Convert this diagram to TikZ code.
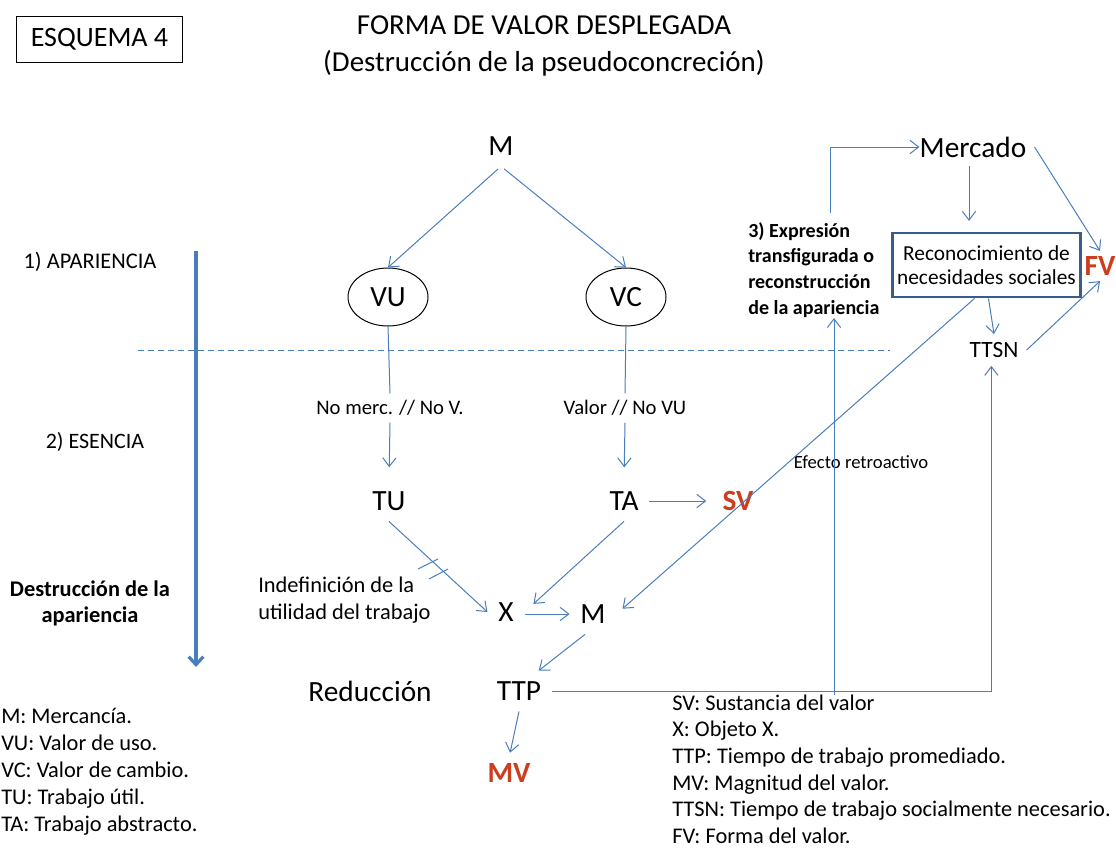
\documentclass[tikz,border=0pt]{standalone}
\usepackage{fontspec}
\setmainfont{Carlito}
\usepackage{tikz}
\usetikzlibrary{arrows.meta}
\usetikzlibrary{shapes.geometric,positioning}
\definecolor{lineblue}{RGB}{74,126,187}
\definecolor{boxblue}{RGB}{56,93,138}
\definecolor{valred}{RGB}{204,62,32}

\begin{document}
\begin{tikzpicture}[x=0.75pt,y=-0.75pt,
    big/.style={font=\fontsize{22}{26}\selectfont, inner sep=8pt},
    small/.style={font=\fontsize{15.5}{18}\selectfont, inner sep=5pt},
    note/.style={font=\fontsize{16.8}{20.3}\selectfont, inner sep=0pt, align=left, anchor=west},
    boldnote/.style={font=\fontsize{15}{19.4}\selectfont\bfseries, inner sep=0pt},
    redlbl/.style={font=\fontsize{22}{26}\selectfont\bfseries, text=valred, inner sep=4pt},
    oval/.style={ellipse, draw, line width=0.75pt, minimum width=60pt, minimum height=43.5pt,
        font=\fontsize{22}{26}\selectfont},
    conn/.style={draw=lineblue, line width=0.75pt, -{Straight Barb[length=6.5pt,width=10pt]}},
    plain/.style={draw=lineblue, line width=0.75pt},
    phase/.style={draw=lineblue, line width=2.4pt, -{Straight Barb[length=6pt,width=11pt]}}]
\useasboundingbox (0,0) rectangle (1116,850);

% title
\node (esquema) [draw, line width=0.75pt, minimum width=125pt, minimum height=34.5pt,
    font=\fontsize{21}{25}\selectfont] at (99.5,39) {ESQUEMA 4};
\node (title) [align=center, font=\fontsize{21.7}{27.5}\selectfont] at (544,46)
    {FORMA DE VALOR DESPLEGADA\\(Destrucción de la pseudoconcreción)};

% levels
\node (apariencia) [font=\fontsize{16.8}{20}\selectfont] at (90,262) {1) APARIENCIA};
\node (esencia) [font=\fontsize{16.5}{20}\selectfont] at (95,442) {2) ESENCIA};
\node (destruccion) [boldnote, align=center, font=\fontsize{16.8}{19.5}\selectfont\bfseries]
    at (90,603) {Destrucción de la\\apariencia};
\coordinate (phase-top) at (196,251);
\coordinate (phase-bot) at (196,667);
\draw[phase] (phase-top) -- (phase-bot);
\coordinate (cut-left) at (138,350);
\coordinate (cut-right) at (890,350);
\draw[plain, dash pattern=on 4.5pt off 3pt] (cut-left) -- (cut-right);

% apariencia
\node (m-top) [big] at (501,146) {M};
\node (vu) [oval] at (388,297) {VU};
\node (vc) [oval] at (626,297) {VC};
\draw[conn, shorten <=3pt] (m-top.south) -- (vu.north);
\draw[conn, shorten <=3pt] (m-top.south) -- (vc.north);

% esencia
\node (vu-lbl) [small] at (390,408) {No merc. // No V.};
\node (vc-lbl) [small] at (625,408) {Valor // No VU};
\node (tu) [big] at (389,501) {TU};
\node (ta) [big] at (624,501) {TA};
\node (sv) [redlbl] at (738,501) {SV};
\draw[plain] (vu.south) -- (vu-lbl.north);
\draw[plain] (vc.south) -- (vc-lbl.north);
\draw[conn, shorten >=10pt] (vu-lbl.south) -- (tu.north);
\draw[conn, shorten >=10pt] (vc-lbl.south) -- (ta.north);
\draw[conn, shorten >=8pt] (ta.east) -- (sv.west);

% destruccion de la apariencia
\node (x) [big] at (506,612) {X};
\node (m-bot) [big] at (593,614) {M};
\node (indef) [note] at (258,600) {Indefinición de la\\utilidad del trabajo};
\draw[conn] (tu.south) -- (x.west);
\draw[plain] (418,569) -- (438,559);
\draw[plain] (429,579) -- (448,569);
\draw[conn, shorten >=9pt] (ta.south) -- (x.east);
\draw[conn] (m-bot.west -| x.east) -- (m-bot.west);

% reduccion
\node (reduccion) [big] at (370,691) {Reducción};
\node (ttp) [big] at (519,691) {TTP};
\node (mv) [redlbl] at (509,773) {MV};
\draw[conn] ([xshift=-6pt]m-bot.south) -- ([xshift=-10pt]ttp.north east);
\draw[conn, shorten >=4pt] (ttp.south) -- (mv.north);

% reconstruccion
\node (mercado) [big, inner sep=6pt] at (973,147) {Mercado};
\node (recon) [draw=boxblue, line width=2.2pt, minimum width=138pt, minimum height=48pt,
    align=center, font=\fontsize{16}{17.5}\selectfont] at (986.5,265)
    {Reconocimiento de\\necesidades sociales};
\node (ttsn) [font=\fontsize{17.5}{20}\selectfont, inner sep=6pt] at (994,350) {TTSN};
\node (fv) [redlbl] at (1100,266) {FV};
\node (expr) [boldnote, align=left, anchor=west] at (748,270)
    {3) Expresión\\transfigurada o\\reconstrucción\\de la apariencia};
\node (efecto) [font=\fontsize{14}{17}\selectfont] at (861,462) {Efecto retroactivo};
\coordinate (retro-foot) at (834,695);
\coordinate (retro-head) at (830,213);
\draw[conn] (retro-foot) -- (retro-foot |- expr.south);
\draw[conn] (retro-head) |- ([xshift=6pt]mercado.west);
\draw[conn, shorten >=8pt] ([xshift=-3pt]mercado.south) -- ([xshift=-3pt]mercado.south |- recon.north);
\draw[conn] ([xshift=1.5pt]recon.south) -- (ttsn.north);
\draw[conn] (mercado.east) -- (fv.north);
\draw[conn] (ttsn.east) -- (fv.south);
\draw[conn, shorten >=6pt] ([xshift=-9pt]recon.south) -- (m-bot.east);
\draw[conn] (ttp.east) -| ([xshift=-2pt]ttsn.south);

% leyendas
\node (leyenda-a) [note] at (1,772)
    {M: Mercancía.\\VU: Valor de uso.\\VC: Valor de cambio.\\TU: Trabajo útil.\\TA: Trabajo abstracto.};
\node (leyenda-b) [note, font=\fontsize{16.8}{20}\selectfont] at (672,769)
    {SV: Sustancia del valor\\X: Objeto X.\\TTP: Tiempo de trabajo promediado.\\MV: Magnitud del valor.\\TTSN: Tiempo de trabajo socialmente necesario.\\FV: Forma del valor.};
\end{tikzpicture}
\end{document}
